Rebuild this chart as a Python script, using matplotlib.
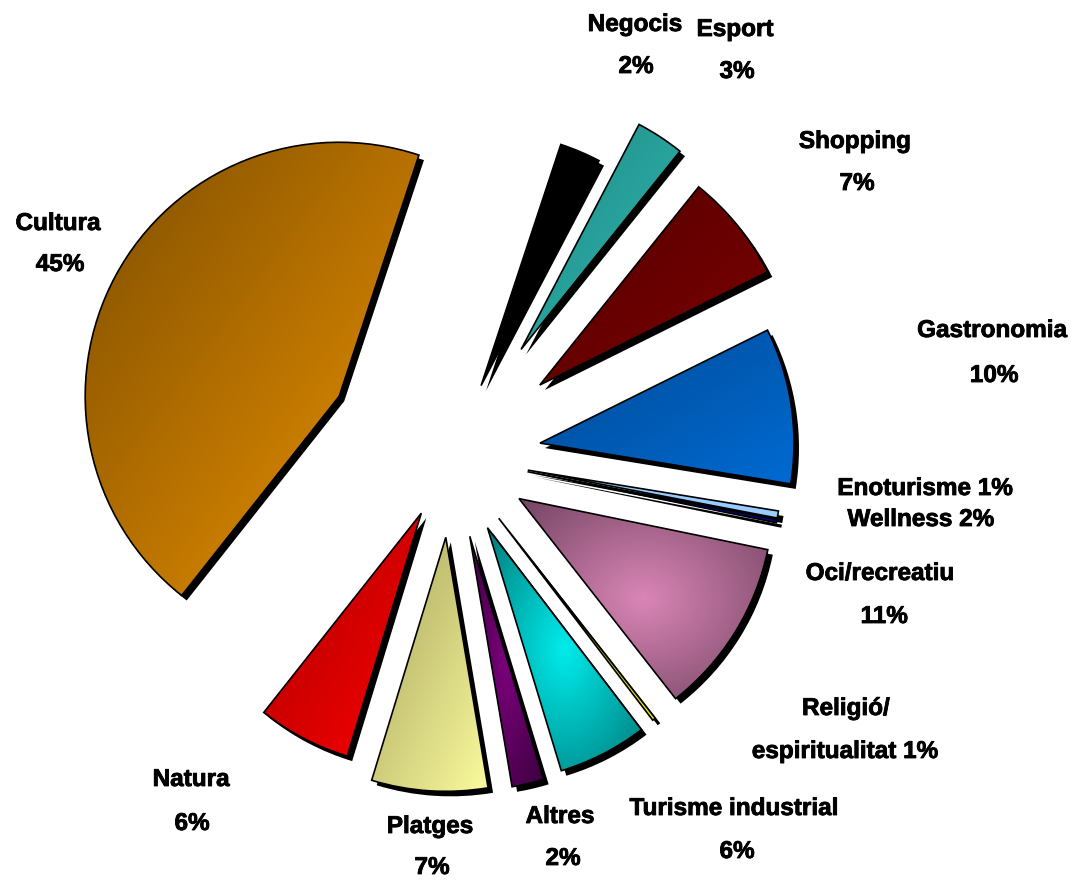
import numpy as np
import matplotlib
matplotlib.use('Agg')
import matplotlib.pyplot as plt
import matplotlib.patheffects as pe
from matplotlib.colors import to_rgb
from matplotlib.patches import PathPatch

# dades (quota de cada motiu, llegida dels angles del pastís)
categories = ['Negocis', 'Esport', 'Shopping', 'Gastronomia', 'Wellness', 'Enoturisme',
              'Oci/recreatiu', 'Religió/espiritualitat', 'Turisme industrial', 'Altres',
              'Platges', 'Natura', 'Cultura']
shares = [2.6, 3.07, 6.9, 9.9, 0.45, 0.2, 11.2, 0.2, 5.67, 2.03, 7.37, 5.93, 44.4]
label_text = ['Negocis\n2%', 'Esport\n3%', 'Shopping\n7%', 'Gastronomia\n10%',
              'Wellness 2%', 'Enoturisme 1%', 'Oci/recreatiu\n11%',
              'Religió/\nespiritualitat 1%', 'Turisme industrial\n6%', 'Altres\n2%',
              'Platges\n7%', 'Natura\n6%', 'Cultura\n45%']

# estil de cada porció: color inicial, color final, tipus de degradat
styles = [('#000000', '#000000', 'lin'),
          ('#1F8A88', '#31B6AD', 'lin'),
          ('#520000', '#7E0000', 'lin'),
          ('#004A94', '#006AD2', 'lin'),
          ('#99CCFF', '#99CCFF', 'lin'),
          ('#000080', '#000080', 'lin'),
          ('#734462', '#DA86B6', 'mid'),
          ('#FFFF00', '#E8E800', 'lin'),
          ('#007A7A', '#00ECEC', 'mid'),
          ('#3A003E', '#7C007C', 'mid'),
          ('#A6A35C', '#FBFB9E', 'lin'),
          ('#AC0000', '#FA0000', 'lin'),
          ('#7C4D00', '#EE9300', 'lin')]

# separació de cada porció (en píxels)
explode = [77, 128, 114, 90, 78, 78, 80, 78, 80, 82, 81, 64, 127]

# posició de la línia base de cada línia d'etiqueta (píxels, y cap avall)
label_pos = [[(635, 31), (636, 73)],
             [(735, 36), (737, 78)],
             [(855, 148), (857, 190)],
             [(992, 337), (994, 382)],
             [(921, 526)],
             [(925, 495)],
             [(880, 580), (884, 623)],
             [(846, 715), (845, 758)],
             [(734, 815), (737, 858)],
             [(560, 823), (563, 865)],
             [(430, 833), (432, 874)],
             [(191, 786), (192, 830)],
             [(58, 230), (60, 271)]]

W, H = 1077, 880
fig = plt.figure(figsize=(W / 100, H / 100), dpi=100)
ax = fig.add_axes([0, 0, 1, 1])

center = (451, H - 456.5)
radius = 254

wedges, _ = ax.pie(shares, explode=explode, startangle=71.7, counterclock=False,
                   center=center, radius=radius, frame=False)


def fill_gradient(w, c0, c1, mode):
    v = w.get_path().vertices
    x0, y0 = v.min(axis=0)
    x1, y1 = v.max(axis=0)
    n = 200
    xx, yy = np.meshgrid(np.linspace(0, 1, n), np.linspace(0, 1, n))
    if mode == 'lin':
        t = (xx + yy) / 2
    else:
        t = 1 - np.clip(np.hypot((xx - 0.5) * 2, (yy - 0.5) * 2) / np.sqrt(2), 0, 1)
    a = np.array(to_rgb(c0))
    b = np.array(to_rgb(c1))
    img = a + (b - a) * t[..., None]
    im = ax.imshow(img, extent=(x0, x1, y0, y1), origin='upper', aspect='auto',
                   interpolation='bilinear', zorder=2)
    im.set_clip_path(w)


for w, (c0, c1, mode) in zip(wedges, styles):
    w.set_facecolor(c0)
    w.set_edgecolor('none')
    w.set_zorder(1)
    w.set_path_effects([pe.SimplePatchShadow(offset=(3.6, -3.6), shadow_rgbFace='black',
                                             alpha=1.0), pe.Normal()])
    fill_gradient(w, c0, c1, mode)
    ax.add_patch(PathPatch(w.get_path(), facecolor='none', edgecolor='black',
                           lw=1.2, zorder=3))

for txt, pos in zip(label_text, label_pos):
    for line, (x, y) in zip(txt.split('\n'), pos):
        ax.text(x, H - y, line, ha='center', va='baseline', fontsize=17.5,
                fontweight='bold', family='Liberation Sans', color='black',
                path_effects=[pe.withStroke(linewidth=0.6, foreground='black')])

ax.set_xlim(0, W)
ax.set_ylim(0, H)
ax.set_aspect('auto')
ax.axis('off')

fig.savefig('out.png', dpi=100, facecolor='white')
